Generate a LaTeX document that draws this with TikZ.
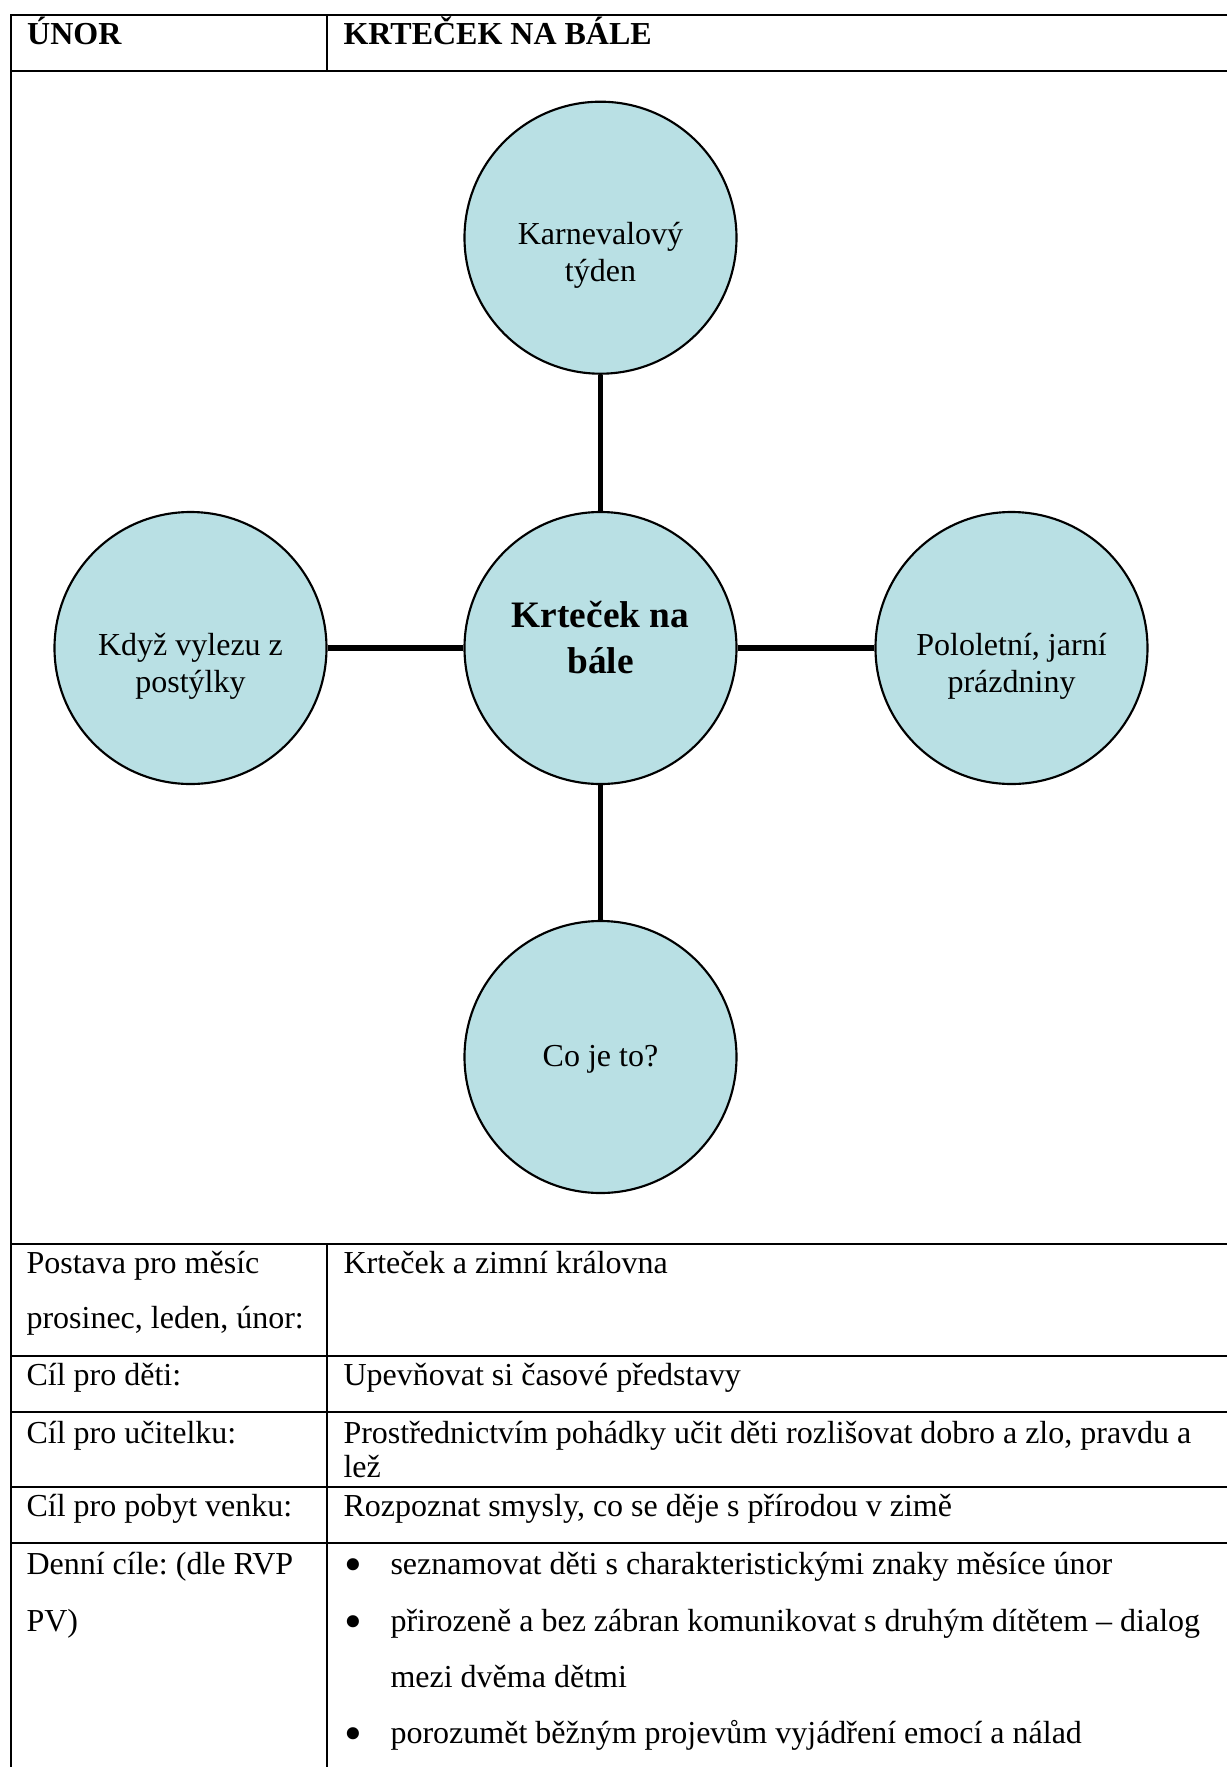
\documentclass[tikz,border=0pt]{standalone}
\usepackage{fontspec}
\setmainfont{Liberation Serif}
\usetikzlibrary{positioning}
\definecolor{bubblefill}{RGB}{185,224,228}
\frenchspacing
\tikzset{
  bubble/.style={circle,draw=black,line width=0.8pt,fill=bubblefill,minimum size=102pt,inner sep=0pt},
  bubtext/.style={align=center,anchor=base,inner sep=0pt,font=\fontsize{12pt}{13.9pt}\selectfont},
  hubtext/.style={align=center,anchor=base,inner sep=0pt,font=\fontsize{14pt}{16.9pt}\selectfont\bfseries},
  spoke/.style={line width=1.9pt},
  gridline/.style={line width=0.8pt},
  cell/.style={anchor=base west,inner sep=0pt,font=\fontsize{12pt}{14pt}\selectfont},
  dot/.style={anchor=base west,inner sep=0pt,font=\fontsize{19pt}{19pt}\selectfont},
}
\begin{document}
\begin{tikzpicture}[x=0.375pt,y=-0.375pt]
\useasboundingbox (0,0) rectangle (1227,1767);
% table frame
\draw[gridline] (1227,15) -- (11,15) -- (11,1767);
\draw[gridline] (326.7,15) -- (326.7,71);
\draw[gridline] (326.7,1244) -- (326.7,1767);
\foreach \y in {71,1244,1356,1412,1487,1543}
  \draw[gridline] (11,\y) -- (1227,\y);
% header
\node[cell] (hmonth) at (26.7,44.3) {\textbf{ÚNOR}};
\node[cell] (htitle) at (343,44.3) {\textbf{KRTEČEK NA BÁLE}};
% mind map
\node[bubble] (hub) at (600.5,648) {};
\node[bubble] (carnival) at (600.5,237.7) {};
\node[bubble] (bed) at (190.5,648) {};
\node[bubble] (holiday) at (1011.5,648) {};
\node[bubble] (what) at (600.5,1057) {};
\draw[spoke] (hub) -- (carnival);
\draw[spoke] (hub) -- (bed);
\draw[spoke] (hub) -- (holiday);
\draw[spoke] (hub) -- (what);
% text: base anchor sits on the last line
\node[hubtext] (hubtxt) at (600.5,673) {Krteček na\\bále};
\node[bubtext] (carnivaltxt) at (600.5,281.7) {Karnevalový\\týden};
\node[bubtext] (bedtxt) at (190.5,692.5) {Když vylezu z\\postýlky};
\node[bubtext] (holidaytxt) at (1011.5,692.5) {Pololetní, jarní\\prázdniny};
\node[bubtext] (whattxt) at (600.5,1066) {Co je to?};
% rows
\node[cell] (figa) at (26,1273) {Postava pro měsíc};
\node[cell] (figb) at (26,1328) {prosinec, leden, únor:};
\node[cell] (figval) at (343,1273) {Krteček a zimní královna};
\node[cell] (kids) at (26,1385) {Cíl pro děti:};
\node[cell] (kidsval) at (343,1385) {Upevňovat si časové představy};
\node[cell] (teach) at (26,1443) {Cíl pro učitelku:};
\node[cell] (teachvala) at (343,1443) {Prostřednictvím pohádky učit děti rozlišovat dobro a zlo, pravdu a};
\node[cell] (teachvalb) at (343,1477) {lež};
\node[cell] (outdoor) at (26,1516) {Cíl pro pobyt venku:};
\node[cell] (outdoorval) at (343,1516) {Rozpoznat smysly, co se děje s přírodou v zimě};
\node[cell] (dailya) at (26,1574) {Denní cíle: (dle RVP};
\node[cell] (dailyb) at (26,1631) {PV)};
\node[dot] (dot1) at (344,1581) {•};
\node[cell] (goal1) at (390,1574) {seznamovat děti s charakteristickými znaky měsíce únor};
\node[dot] (dot2) at (344,1638) {•};
\node[cell] (goal2a) at (390,1631) {přirozeně a bez zábran komunikovat s druhým dítětem – dialog};
\node[cell] (goal2b) at (390,1687) {mezi dvěma dětmi};
\node[dot] (dot3) at (344,1750) {•};
\node[cell] (goal3) at (390,1743) {porozumět běžným projevům vyjádření emocí a nálad};
\end{tikzpicture}
\end{document}
